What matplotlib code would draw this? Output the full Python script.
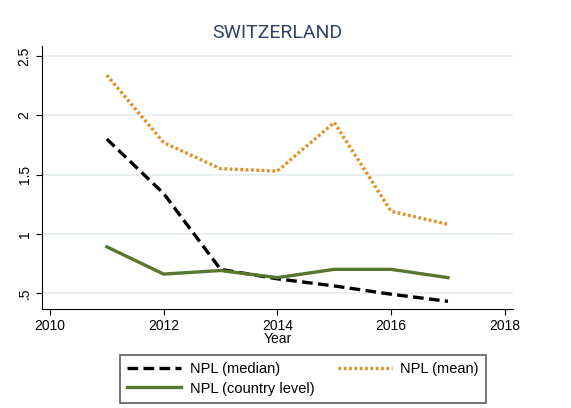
import matplotlib.pyplot as plt

years = [2011, 2012, 2013, 2014, 2015, 2016, 2017]
npl_median = [1.80, 1.34, 0.70, 0.62, 0.56, 0.49, 0.43]
npl_mean = [2.34, 1.77, 1.55, 1.53, 1.94, 1.19, 1.08]
npl_country = [0.89, 0.66, 0.69, 0.63, 0.70, 0.70, 0.63]

xticks = [2010, 2012, 2014, 2016, 2018]
yticks = [0.5, 1, 1.5, 2, 2.5]
ylabels = ['.5', '1', '1.5', '2', '2.5']

plt.rcParams['font.family'] = ['Liberation Sans', 'DejaVu Sans']

fig = plt.figure(figsize=(5.71, 4.08), dpi=100)
ax = fig.add_axes([0.0736, 0.2426, 0.8244, 0.6444])

l1, = ax.plot(years, npl_median, color='black', lw=2.4, ls=(0, (3.2, 1.6)),
              label='NPL (median)')
l2, = ax.plot(years, npl_mean, color='#ef8a17', lw=2.4, ls=(0, (0.8, 0.8)),
              label='NPL (mean)')
l3, = ax.plot(years, npl_country, color='#55772f', lw=2.4,
              label='NPL (country level)')

ax.set_xlim(2009.86, 2018.14)
ax.set_ylim(0.365, 2.585)
ax.set_xticks(xticks)
ax.set_yticks(yticks)
ax.set_yticklabels(ylabels, rotation=90, va='center')
ax.tick_params(labelsize=10, length=4, color='black')
ax.grid(axis='y', color='#e6eff0', lw=1.3)
ax.set_axisbelow(True)
for s in ['top', 'right']:
    ax.spines[s].set_visible(False)
ax.set_xlabel('Year', fontsize=10, labelpad=-1)
ax.set_title('SWITZERLAND', fontsize=14, color='#2d4466', pad=6,
             family=['Roboto', 'DejaVu Sans'])

leg = fig.legend(handles=[l1, l3, l2], ncol=2, loc='center',
                 bbox_to_anchor=(303 / 571, 1 - 379 / 408), fontsize=10.5,
                 frameon=True, fancybox=False, edgecolor='#333333',
                 handlelength=3.7, handletextpad=0.6, columnspacing=1.6,
                 borderpad=0.5, labelspacing=0.35)
leg.get_frame().set_linewidth(1.2)

fig.savefig('out.png', dpi=100)
